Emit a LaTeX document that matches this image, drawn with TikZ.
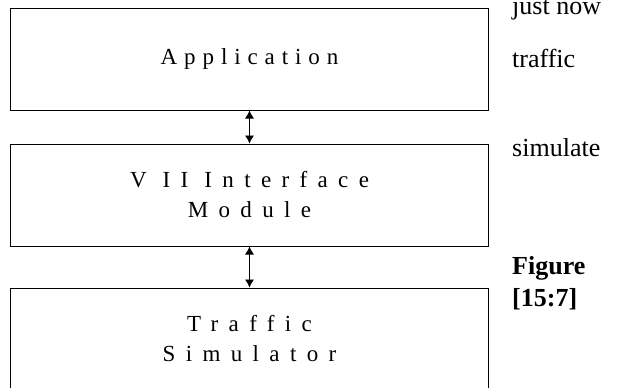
\documentclass[tikz,border=0pt]{standalone}
\usepackage{fontspec}
\setmainfont{Liberation Serif}
\newfontfamily\spacedfont[LetterSpace=45]{Liberation Serif}
\newfontfamily\appfont[LetterSpace=30]{Liberation Serif}
\usetikzlibrary{arrows.meta}
\tikzset{
  block/.style={draw,line width=1bp,minimum width=477bp,minimum height=102bp,inner sep=0pt,align=center,
    font=\spacedfont\fontsize{23bp}{30bp}\selectfont},
  link/.style={{Latex[width=9bp,length=8bp]}-{Latex[width=9bp,length=8bp]},line width=0.8bp},
  note/.style={anchor=base west,inner sep=0pt,font=\fontsize{26bp}{30bp}\selectfont}
}

\begin{document}
\begin{tikzpicture}[x=1bp,y=1bp]
\useasboundingbox (0,0) rectangle (636,-387);
\clip (0,0) rectangle (636,-387);
\node[block,font=\appfont\fontsize{23bp}{30bp}\selectfont] (app) at (249.5,-59) {Application};
\node[block] (vii) at (249.5,-195) {V II Interface\\Module};
\node[block] (sim) at (249.5,-339) {Traffic\\Simulator};
\draw[link] (app) -- (vii);
\draw[link] (vii) -- (sim);
% text running beside the figure
\node[note] (justnow) at (512,-14) {just now};
\node[note] (traffic) at (512,-67) {traffic};
\node[note] (simulate) at (512,-156) {simulate};
\node[note,font=\bfseries\fontsize{26bp}{30bp}\selectfont] (fig) at (512,-274) {Figure};
\node[note,font=\bfseries\fontsize{26bp}{30bp}\selectfont] (figref) at (512,-306) {[15:7]};
\end{tikzpicture}
\end{document}
